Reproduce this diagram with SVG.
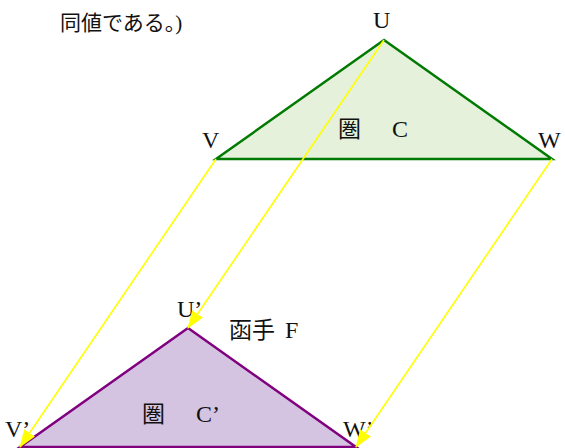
<svg xmlns="http://www.w3.org/2000/svg" width="565" height="448" viewBox="0 0 565 448">
<style>
text{font-family:"Liberation Serif","Noto Sans CJK JP",serif;font-size:24px;fill:#111}
.cj{font-size:21px}
.big{font-size:23px}
.cat{stroke-width:2.5;stroke-linejoin:miter}
.conn{stroke:#ffff00;stroke-width:1.6;fill:none}
</style>
<defs>
<marker id="ah" markerWidth="18" markerHeight="13" refX="17" refY="6.5" orient="auto" markerUnits="userSpaceOnUse">
<path d="M0,0 L18,6.5 L0,13 Z" fill="#ffff00"/>
</marker>
</defs>
<rect width="565" height="448" fill="#fff"/>
<text class="cj" x="60" y="30">同値である。)</text>
<g id="catC">
<polygon class="cat" points="384,40 216,159 552,159" fill="#e5f1db" stroke="#007a00"/>
<text class="big" x="338" y="137">圏</text>
<text x="392" y="137">C</text>
</g>
<g id="catC2">
<polygon class="cat" points="188,328 20,447 356,447" fill="#d5c4e1" stroke="#800080"/>
<text class="big" x="142" y="422">圏</text>
<text x="196" y="422">C’</text>
</g>
<g id="nodeU"><text x="373" y="28">U</text></g>
<g id="nodeV"><text x="202" y="148">V</text></g>
<g id="nodeW"><text x="538" y="148">W</text></g>
<g id="nodeU2"><text x="177" y="317">U’</text></g>
<g id="nodeV2"><text x="5" y="437">V’</text></g>
<g id="nodeW2"><text x="343" y="437">W’</text></g>
<g id="functor"><text class="big" x="229" y="338">函手</text><text x="285" y="338">F</text></g>
<g id="connectors">
<line class="conn" x1="384" y1="40" x2="188" y2="328" marker-end="url(#ah)"/>
<line class="conn" x1="216" y1="159" x2="20" y2="447" marker-end="url(#ah)"/>
<line class="conn" x1="552" y1="159" x2="356" y2="447" marker-end="url(#ah)"/>
</g>
</svg>
